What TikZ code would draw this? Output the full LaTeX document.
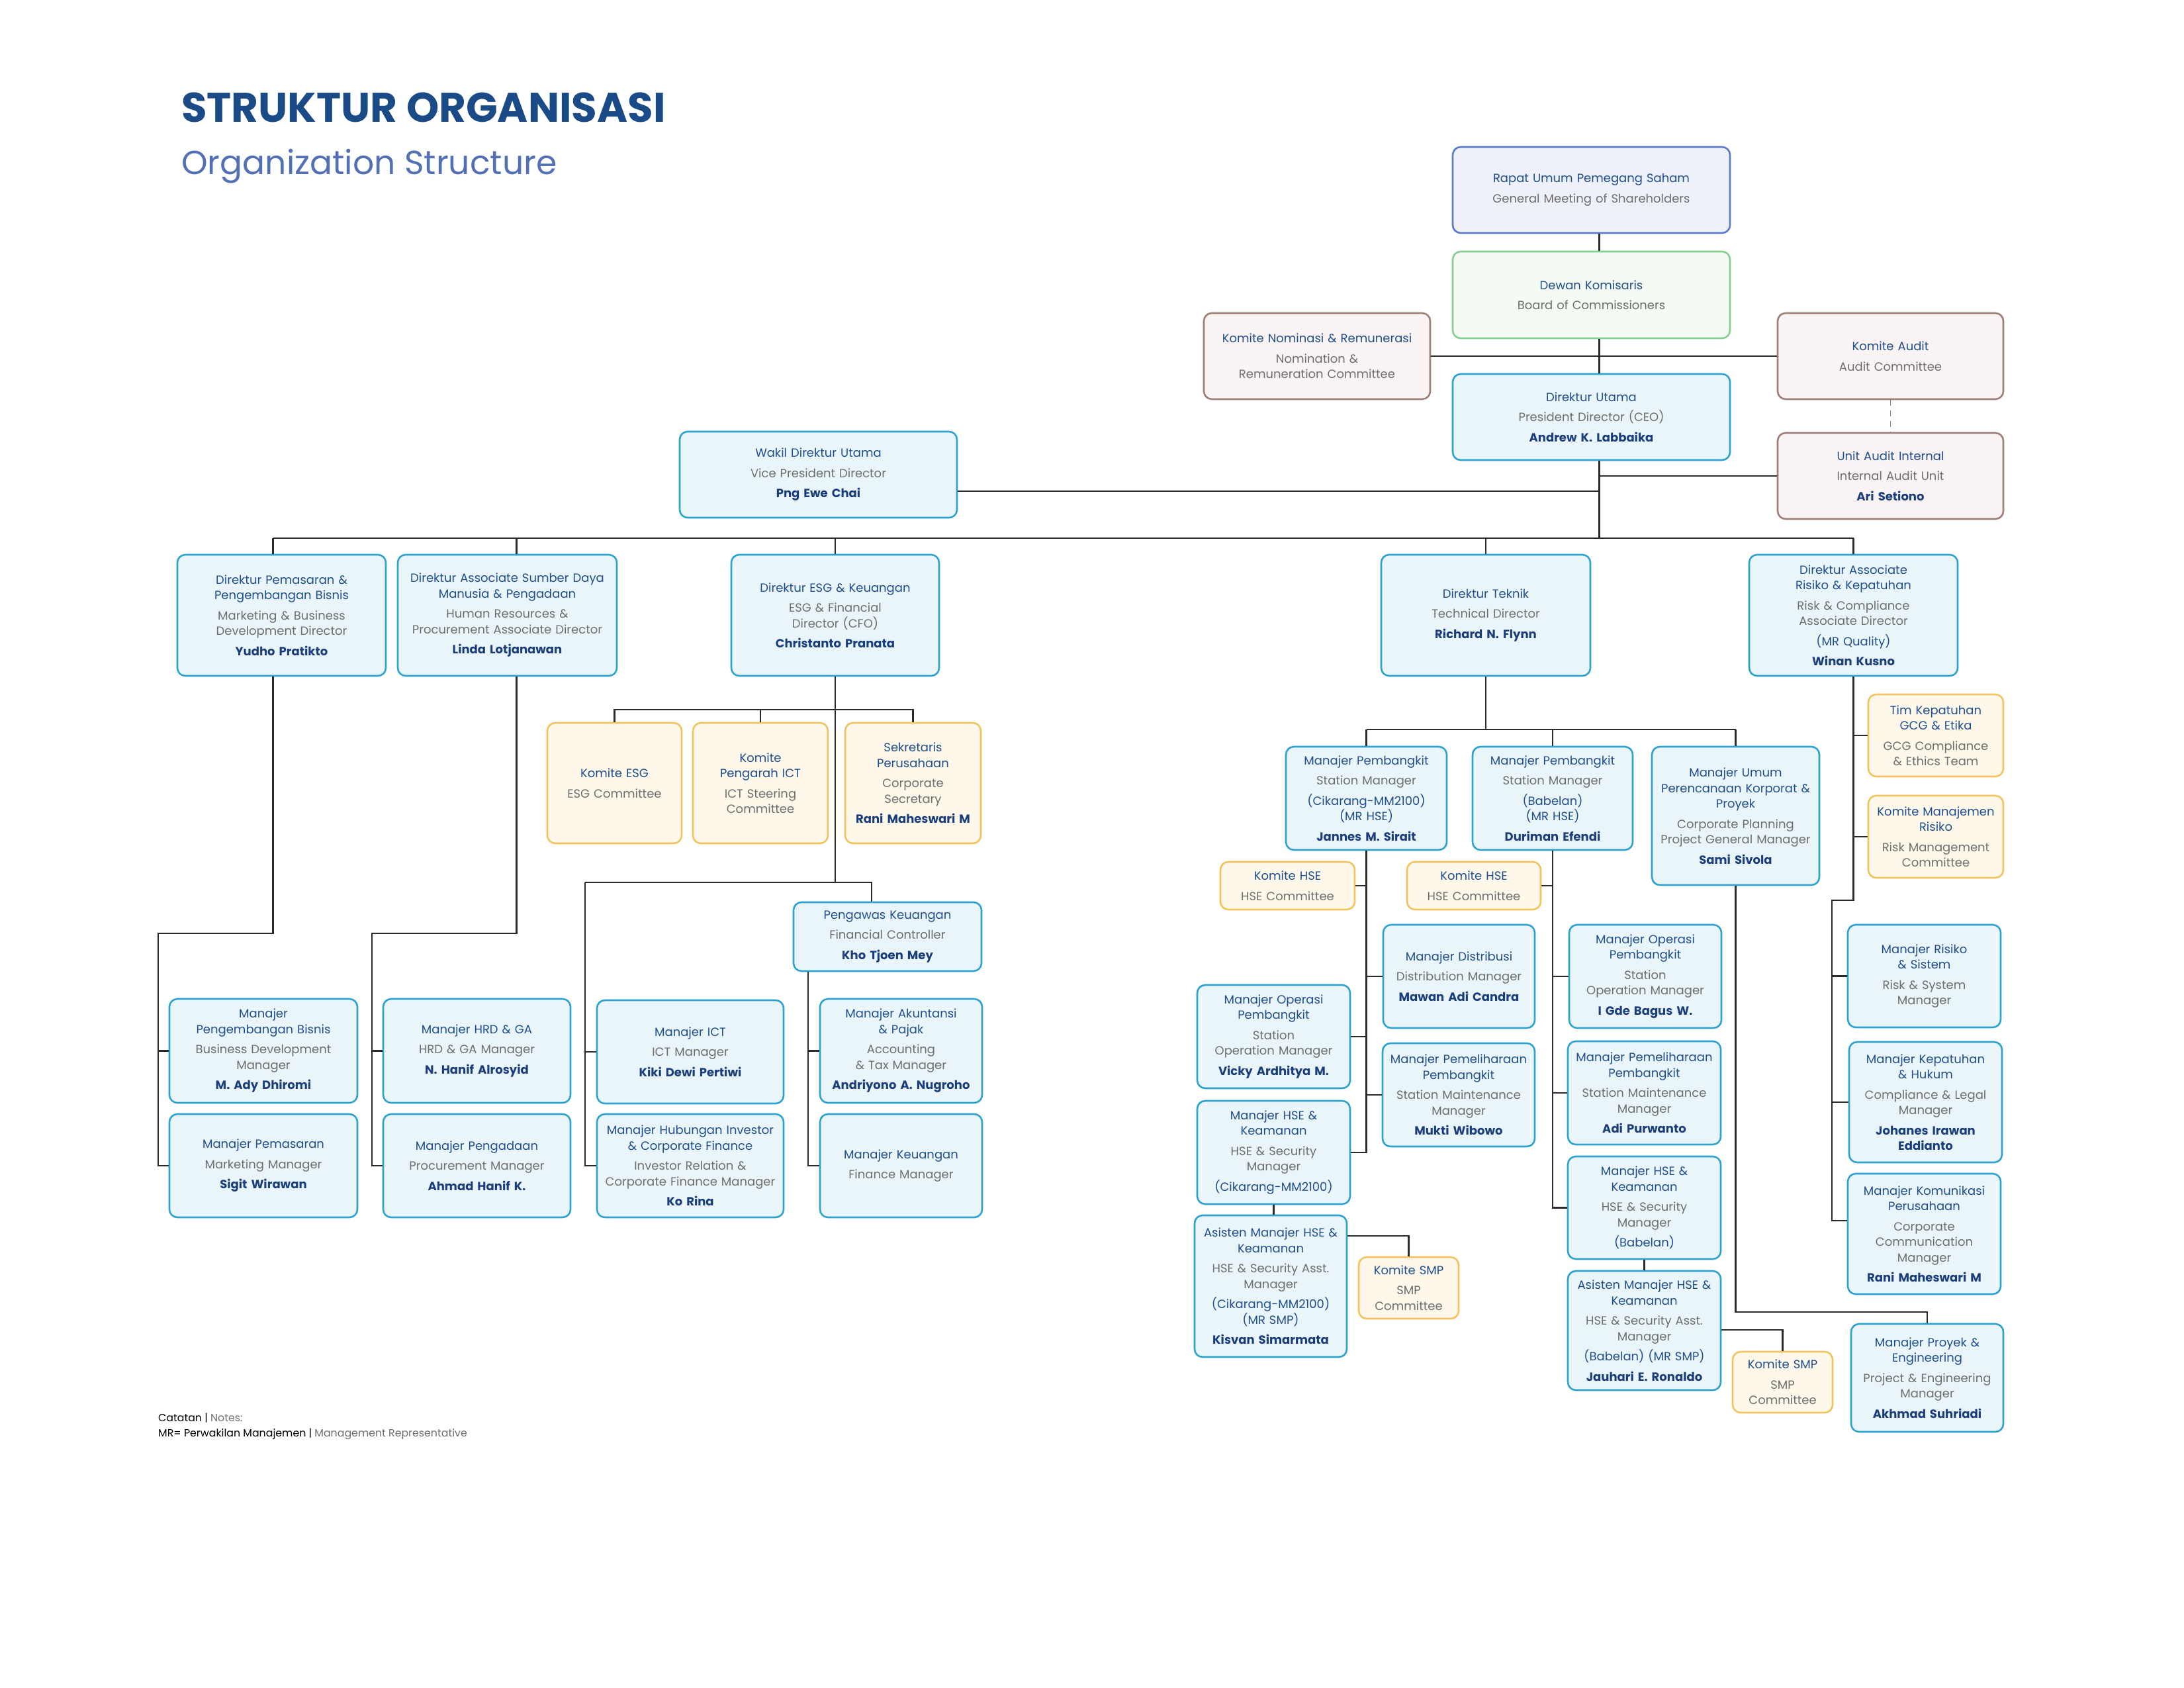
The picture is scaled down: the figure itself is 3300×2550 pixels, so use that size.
\documentclass[tikz,border=0pt]{standalone}
\usepackage{fontspec}
\setmainfont{Poppins}
\usetikzlibrary{calc}
\definecolor{tcol}{HTML}{1F4E8C}
\definecolor{scol}{HTML}{6E6E6E}
\definecolor{ncol}{HTML}{1A3D7C}
\definecolor{headc}{HTML}{1B4B87}
\definecolor{head2}{HTML}{5470B5}
\definecolor{bfill}{HTML}{EAF5FA}
\definecolor{bbord}{HTML}{2EA3CD}
\definecolor{yfill}{HTML}{FEF8EB}
\definecolor{ybord}{HTML}{F2C35E}
\definecolor{rfill}{HTML}{FAF3F3}
\definecolor{rbord}{HTML}{9E7F78}
\definecolor{pfill}{HTML}{EEF0FA}
\definecolor{pbord}{HTML}{5A7BCB}
\definecolor{gfill}{HTML}{F5FAF3}
\definecolor{gbord}{HTML}{86CF93}
\definecolor{lcol}{HTML}{2A2A2A}
\newcommand\sub[1]{{\color{scol}#1}}
\newcommand\nm[1]{{\bfseries\color{ncol}#1}}
\newcommand\gp{\\[7pt]}
\newcommand\bx[7]{%
  \pgfmathsetmacro\bxW{#5-#3}\pgfmathsetmacro\bxT{#5-#3-8}%
  \pgfmathsetmacro\bxH{#6-#4}\pgfmathsetmacro\bxX{(#3+#5)/2}\pgfmathsetmacro\bxY{(#4+#6)/2}%
  \node[#2, minimum width=\bxW pt, minimum height=\bxH pt, text width=\bxT pt] (#1) at (\bxX,\bxY) {#7};}
\begin{document}
\begin{tikzpicture}[x=1pt,y=-1pt,
  box/.style={draw, rounded corners=12pt, line width=2.6pt, align=center, inner xsep=4pt, inner ysep=2pt,
    font=\fontsize{18}{23.5}\selectfont, text=tcol},
  bluebox/.style={box, draw=bbord, fill=bfill},
  yelbox/.style={box, draw=ybord, fill=yfill},
  brnbox/.style={box, draw=rbord, fill=rfill},
  rupsbox/.style={box, draw=pbord, fill=pfill},
  dkbox/.style={box, draw=gbord, fill=gfill},
  conn/.style={draw=lcol, line width=2.4pt},
  dconn/.style={draw=gray, line width=1.8pt, dash pattern=on 9pt off 7pt}]
\fill[white] (0,0) rectangle (3300,2550);
\useasboundingbox (0,0) rectangle (3300,2550);

% header
\node[anchor=base west, inner sep=0pt, font=\fontsize{62.7}{68}\bfseries\selectfont, text=headc] (h1) at (274,185) {STRUKTUR ORGANISASI};
\node[anchor=base west, inner sep=0pt, font=\fontsize{50.4}{56}\selectfont, text=head2] (h2) at (274,263) {Organization Structure};

% top level
\bx{rups}{rupsbox}{2195}{222}{2614}{352}{Rapat Umum Pemegang Saham\gp\sub{General Meeting of Shareholders}}
\bx{dk}{dkbox}{2195}{380}{2614}{511}{Dewan Komisaris\gp\sub{Board of Commissioners}}
\bx{knr}{brnbox}{1819}{473}{2161}{603}{Komite Nominasi \& Remunerasi\gp\sub{Nomination \&\\Remuneration Committee}}
\bx{ka}{brnbox}{2686}{473}{3027}{603}{Komite Audit\gp\sub{Audit Committee}}
\bx{du}{bluebox}{2195}{565}{2614}{695}{Direktur Utama\gp\sub{President Director (CEO)}\gp\nm{Andrew K. Labbaika}}
\bx{uai}{brnbox}{2686}{654}{3027}{784}{Unit Audit Internal\gp\sub{Internal Audit Unit}\gp\nm{Ari Setiono}}
\bx{wdu}{bluebox}{1027}{652}{1446}{782}{Wakil Direktur Utama\gp\sub{Vice President Director}\gp\nm{Png Ewe Chai}}

% directors
\bx{dpm}{bluebox}{268}{838}{583}{1021}{Direktur Pemasaran \&\\Pengembangan Bisnis\gp\sub{Marketing \& Business\\Development Director}\gp\nm{Yudho Pratikto}}
\bx{dsdm}{bluebox}{601}{838}{932}{1021}{Direktur Associate Sumber Daya\\Manusia \& Pengadaan\gp\sub{Human Resources \&\\Procurement Associate Director}\gp\nm{Linda Lotjanawan}}
\bx{desg}{bluebox}{1105}{838}{1419}{1021}{Direktur ESG \& Keuangan\gp\sub{ESG \& Financial\\Director (CFO)}\gp\nm{Christanto Pranata}}
\bx{dtek}{bluebox}{2087}{838}{2403}{1021}{Direktur Teknik\gp\sub{Technical Director}\gp\nm{Richard N. Flynn}}
\bx{drk}{bluebox}{2643}{838}{2958}{1021}{Direktur Associate\\Risiko \& Kepatuhan\gp\sub{Risk \& Compliance\\Associate Director}\gp(MR Quality)\gp\nm{Winan Kusno}}

% ESG committees
\bx{kesg}{yelbox}{827}{1092}{1030}{1274}{Komite ESG\gp\sub{ESG Committee}}
\bx{kict}{yelbox}{1047}{1092}{1251}{1274}{Komite\\Pengarah ICT\gp\sub{ICT Steering\\Committee}}
\bx{sek}{yelbox}{1277}{1092}{1482}{1274}{Sekretaris\\Perusahaan\gp\sub{Corporate\\Secretary}\gp\nm{Rani Maheswari M}}
\bx{pk}{bluebox}{1199}{1363}{1483}{1467}{Pengawas Keuangan\gp\sub{Financial Controller}\gp\nm{Kho Tjoen Mey}}

% left managers
\bx{mpb}{bluebox}{256}{1509}{540}{1666}{Manajer\\Pengembangan Bisnis\gp\sub{Business Development\\Manager}\gp\nm{M. Ady Dhiromi}}
\bx{mpm}{bluebox}{256}{1683}{540}{1839}{Manajer Pemasaran\gp\sub{Marketing Manager}\gp\nm{Sigit Wirawan}}
\bx{mhrd}{bluebox}{579}{1509}{862}{1666}{Manajer HRD \& GA\gp\sub{HRD \& GA Manager}\gp\nm{N. Hanif Alrosyid}}
\bx{mpg}{bluebox}{579}{1683}{862}{1839}{Manajer Pengadaan\gp\sub{Procurement Manager}\gp\nm{Ahmad Hanif K.}}
\bx{mict}{bluebox}{902}{1511}{1184}{1667}{Manajer ICT\gp\sub{ICT Manager}\gp\nm{Kiki Dewi Pertiwi}}
\bx{mhi}{bluebox}{902}{1683}{1184}{1839}{Manajer Hubungan Investor\\\& Corporate Finance\gp\sub{Investor Relation \&\\Corporate Finance Manager}\gp\nm{Ko Rina}}
\bx{mak}{bluebox}{1239}{1509}{1484}{1666}{Manajer Akuntansi\\\& Pajak\gp\sub{Accounting\\\& Tax Manager}\gp\nm{Andriyono A. Nugroho}}
\bx{mkeu}{bluebox}{1239}{1683}{1484}{1839}{Manajer Keuangan\gp\sub{Finance Manager}}

% technical
\bx{mpc}{bluebox}{1943}{1128}{2186}{1284}{Manajer Pembangkit\gp\sub{Station Manager}\gp(Cikarang-MM2100)\\(MR HSE)\gp\nm{Jannes M. Sirait}}
\bx{mpbb}{bluebox}{2225}{1128}{2467}{1284}{Manajer Pembangkit\gp\sub{Station Manager}\gp(Babelan)\\(MR HSE)\gp\nm{Duriman Efendi}}
\bx{mum}{bluebox}{2496}{1128}{2749}{1337}{Manajer Umum\\Perencanaan Korporat \&\\Proyek\gp\sub{Corporate Planning\\Project General Manager}\gp\nm{Sami Sivola}}
\bx{khsea}{yelbox}{1844}{1302}{2047}{1374}{Komite HSE\gp\sub{HSE Committee}}
\bx{khseb}{yelbox}{2126}{1302}{2328}{1374}{Komite HSE\gp\sub{HSE Committee}}
\bx{mdis}{bluebox}{2090}{1397}{2319}{1553}{Manajer Distribusi\gp\sub{Distribution Manager}\gp\nm{Mawan Adi Candra}}
\bx{mpml}{bluebox}{2089}{1576}{2319}{1732}{Manajer Pemeliharaan\\Pembangkit\gp\sub{Station Maintenance\\Manager}\gp\nm{Mukti Wibowo}}
\bx{mopl}{bluebox}{1809}{1488}{2040}{1644}{Manajer Operasi\\Pembangkit\gp\sub{Station\\Operation Manager}\gp\nm{Vicky Ardhitya M.}}
\bx{mhsel}{bluebox}{1809}{1663}{2040}{1819}{Manajer HSE \&\\Keamanan\gp\sub{HSE \& Security\\Manager}\gp(Cikarang-MM2100)}
\bx{ahsel}{bluebox}{1805}{1836}{2035}{2050}{Asisten Manajer HSE \&\\Keamanan\gp\sub{HSE \& Security Asst.\\Manager}\gp(Cikarang-MM2100)\\(MR SMP)\gp\nm{Kisvan Simarmata}}
\bx{ksmpl}{yelbox}{2053}{1899}{2204}{1992}{Komite SMP\gp\sub{SMP\\Committee}}
\bx{mopr}{bluebox}{2371}{1397}{2601}{1553}{Manajer Operasi\\Pembangkit\gp\sub{Station\\Operation Manager}\gp\nm{I Gde Bagus W.}}
\bx{mpmr}{bluebox}{2369}{1573}{2600}{1729}{Manajer Pemeliharaan\\Pembangkit\gp\sub{Station Maintenance\\Manager}\gp\nm{Adi Purwanto}}
\bx{mhser}{bluebox}{2369}{1747}{2600}{1902}{Manajer HSE \&\\Keamanan\gp\sub{HSE \& Security\\Manager}\gp(Babelan)}
\bx{ahser}{bluebox}{2369}{1920}{2600}{2100}{Asisten Manajer HSE \&\\Keamanan\gp\sub{HSE \& Security Asst.\\Manager}\gp(Babelan) (MR SMP)\gp\nm{Jauhari E. Ronaldo}}
\bx{ksmpr}{yelbox}{2618}{2042}{2769}{2134}{Komite SMP\gp\sub{SMP\\Committee}}

% risk
\bx{tkg}{yelbox}{2823}{1049}{3027}{1173}{Tim Kepatuhan\\GCG \& Etika\gp\sub{GCG Compliance\\\& Ethics Team}}
\bx{kmr}{yelbox}{2823}{1202}{3027}{1326}{Komite Manajemen\\Risiko\gp\sub{Risk Management\\Committee}}
\bx{mrs}{bluebox}{2792}{1397}{3023}{1552}{Manajer Risiko\\\& Sistem\gp\sub{Risk \& System\\Manager}}
\bx{mkh}{bluebox}{2794}{1574}{3025}{1756}{Manajer Kepatuhan\\\& Hukum\gp\sub{Compliance \& Legal\\Manager}\gp\nm{Johanes Irawan\\Eddianto}}
\bx{mkom}{bluebox}{2792}{1773}{3023}{1955}{Manajer Komunikasi\\Perusahaan\gp\sub{Corporate\\Communication\\Manager}\gp\nm{Rani Maheswari M}}
\bx{mpe}{bluebox}{2797}{2000}{3027}{2163}{Manajer Proyek \&\\Engineering\gp\sub{Project \& Engineering\\Manager}\gp\nm{Akhmad Suhriadi}}

% notes
\node[anchor=west, inner sep=0pt, font=\fontsize{15.8}{18}\selectfont] (n1) at (239,2142) {Catatan | \sub{Notes:}};
\node[anchor=west, inner sep=0pt, font=\fontsize{15.8}{18}\selectfont] (n2) at (239,2166) {MR= Perwakilan Manajemen | \sub{Management Representative}};

% ---------- connectors ----------
\coordinate (bus) at (0,813);
\coordinate (trk) at ($(du.south)+(12,0)$);
\draw[conn] (rups.south -| trk) -- (dk.north -| trk);
\draw[conn] (dk.south -| trk) -- (du.north -| trk);
\draw[conn] (knr.east) -- (ka.west);
\draw[dconn] (ka.south) -- (uai.north);
\draw[conn] (trk) -- (trk |- bus);
\coordinate (wl) at ($(wdu.east)+(0,25)$);
\draw[conn] (wl) -- (wl -| trk);
\draw[conn] (uai.west) -- (uai.west -| trk);
\coordinate (dpmt) at ($(dpm.north)+(-13,0)$);
\coordinate (dsdt) at ($(dsdm.north)+(14,0)$);
\draw[conn] (dpmt |- bus) -- (drk.north |- bus);
\draw[conn] (dpmt) -- (dpmt |- bus);
\draw[conn] (dsdt) -- (dsdt |- bus);
\foreach \n in {desg,dtek,drk} \draw[conn] (\n.north) -- (\n.north |- bus);

% marketing & HR branches
\coordinate (pmk) at (239,1410);
\draw[conn] (dpm.south -| dpmt) -- (dpmt |- pmk) -- (pmk) -- (pmk |- mpm.west) -- (mpm.west);
\draw[conn] (pmk |- mpb.west) -- (mpb.west);
\coordinate (sdk) at (562,1410);
\draw[conn] (dsdm.south -| dsdt) -- (dsdt |- sdk) -- (sdk) -- (sdk |- mpg.west) -- (mpg.west);
\draw[conn] (sdk |- mhrd.west) -- (mhrd.west);

% ESG
\coordinate (eb) at (0,1072);
\draw[conn] (kesg.north) -- (kesg.north |- eb) -- (sek.north |- eb) -- (sek.north);
\draw[conn] (kict.north) -- (kict.north |- eb);
\coordinate (eh) at (0,1333);
\draw[conn] (desg.south) -- (desg.south |- eh);
\coordinate (ict) at (884,1333);
\coordinate (pkt) at ($(pk.north)+(-24,0)$);
\draw[conn] (ict) -- (pkt |- eh) -- (pkt);
\draw[conn] (ict) -- (ict |- mhi.west) -- (mhi.west);
\draw[conn] (ict |- mict.west) -- (mict.west);
\coordinate (kx) at (1221,0);
\draw[conn] (pk.south -| kx) -- (kx |- mkeu.west) -- (mkeu.west);
\draw[conn] (kx |- mak.west) -- (mak.west);

% technical
\coordinate (tb) at (0,1102);
\draw[conn] (dtek.south) -- (dtek.south |- tb);
\draw[conn] (mpc.north |- tb) -- (mum.north |- tb);
\foreach \n in {mpc,mpbb,mum} \draw[conn] (\n.north) -- (\n.north |- tb);
\draw[conn] (mpc.south) -- (mpc.south |- mhsel.east) -- (mhsel.east);
\foreach \n in {khsea,mopl} \draw[conn] (\n.east) -- (\n.east -| mpc.south);
\foreach \n in {mdis,mpml} \draw[conn] (\n.west) -- (\n.west -| mpc.south);
\draw[conn] (mhsel.south) -- (mhsel.south |- ahsel.north);
\coordinate (sl) at ($(ahsel.north east)+(0,32)$);
\draw[conn] (sl) -- (sl -| ksmpl.north) -- (ksmpl.north);
\draw[conn] (mpbb.south) -- (mpbb.south |- mhser.west) -- (mhser.west);
\draw[conn] (khseb.east) -- (khseb.east -| mpbb.south);
\foreach \n in {mopr,mpmr} \draw[conn] (\n.west) -- (\n.west -| mpbb.south);
\draw[conn] (mhser.south) -- (mhser.south |- ahser.north);
\coordinate (sr) at ($(ahser.north east)+(0,90)$);
\draw[conn] (sr) -- (sr -| ksmpr.north) -- (ksmpr.north);
\coordinate (pj) at (0,1982);
\draw[conn] (mum.south) -- (mum.south |- pj) -- (mpe.north |- pj) -- (mpe.north);

% risk
\coordinate (rj) at (2768,1360);
\coordinate (mk) at ($(mkom.north west)+(0,72)$);
\draw[conn] (drk.south) -- (drk.south |- rj) -- (rj) -- (rj |- mk) -- (mk);
\foreach \n in {tkg,kmr} \draw[conn] (\n.west) -- (\n.west -| drk.south);
\foreach \n in {mrs,mkh} \draw[conn] (\n.west) -- (\n.west -| rj);
\end{tikzpicture}
\end{document}
